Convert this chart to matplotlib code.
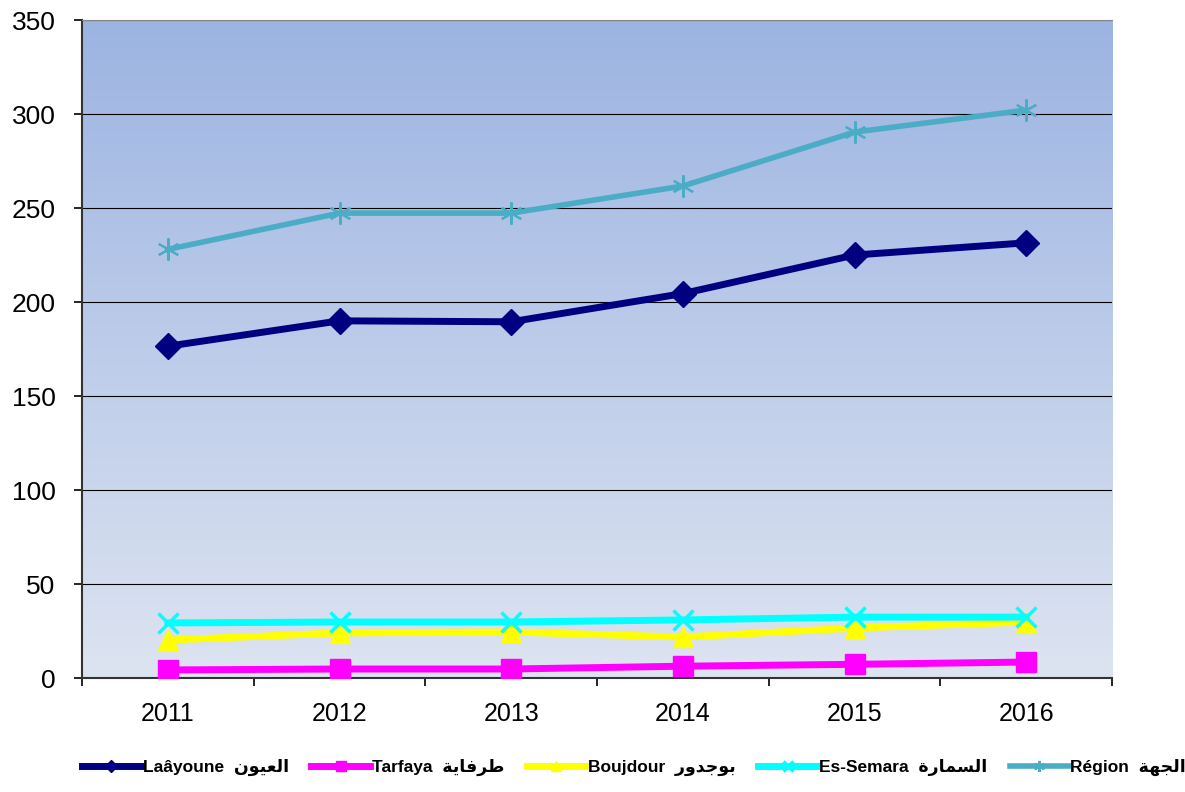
import numpy as np
import matplotlib.pyplot as plt
from matplotlib.colors import LinearSegmentedColormap

years = ["2011", "2012", "2013", "2014", "2015", "2016"]
laayoune = [176.5, 190, 189.5, 204.5, 225, 231.5]
tarfaya = [4.3, 4.8, 4.8, 6.3, 7.3, 8.5]
boujdour = [20.2, 24, 24.5, 21.8, 26.6, 29.8]
semara = [29.3, 29.8, 29.8, 30.9, 32.4, 32.4]
region = [228, 247.3, 247.3, 261.7, 290.4, 302.1]

# arabic names written in presentation forms, visual order (matplotlib has no shaping)
names = [
    "Laâyoune  \ufee5\ufeee\ufef4\ufecc\ufedf\ufe8d",
    "Tarfaya  \ufe94\ufef3\ufe8e\ufed3\ufeae\ufec3",
    "Boujdour  \ufead\ufeed\ufeaa\ufe9f\ufeee\ufe91",
    "Es-Semara  \ufe93\ufead\ufe8e\ufee4\ufeb4\ufedf\ufe8d",
    "Région  \ufe94\ufeec\ufea0\ufedf\ufe8d",
]

plt.rcParams['font.family'] = ['Liberation Sans', 'DejaVu Sans']

fig = plt.figure(figsize=(11.85, 7.92), dpi=100)
ax = fig.add_axes([0.0692, 0.1439, 0.8692, 0.8308])

x = np.arange(len(years))

# gradient background, darker blue on top
cmap = LinearSegmentedColormap.from_list("bg", ["#dde4f1", "#9cb4e2"])
grad = np.linspace(0, 1, 256).reshape(-1, 1)
ax.imshow(grad, cmap=cmap, aspect="auto", extent=[-0.5, 5.5, 0, 350],
          origin="lower", zorder=0)

for yv in range(50, 351, 50):
    ax.axhline(yv, color="black", lw=0.8, zorder=1)

ax.plot(x, tarfaya, color="#ff00ff", lw=5, marker="s", ms=15, label=names[1], zorder=3)
ax.plot(x, boujdour, color="#ffff00", lw=5, marker="^", ms=15, label=names[2], zorder=4)
ax.plot(x, semara, color="#00ffff", lw=5, marker="x", ms=14, mew=2.5, label=names[3], zorder=5)
ax.plot(x, laayoune, color="#000080", lw=5, marker="D", ms=13, label=names[0], zorder=6)
ax.plot(x, region, color="#4bacc6", lw=4, marker=(6, 2, 0), ms=16, mew=1.5, label=names[4], zorder=6)

ax.set_xlim(-0.5, 5.5)
ax.set_ylim(0, 350)
ax.set_yticks(range(0, 351, 50))
ax.set_xticks(x)
ax.set_xticklabels(years)
ax.set_xticks(np.arange(-0.5, 5.6, 1), minor=True)
ax.tick_params(axis="x", which="major", length=0, labelsize=18, pad=17)
ax.tick_params(axis="x", which="minor", length=6, width=1.2, direction="out")
ax.tick_params(axis="y", labelsize=19, length=6, width=1.2, direction="out", pad=13)

ax.spines["top"].set_color("#888888")
ax.spines["right"].set_visible(False)
ax.spines["left"].set_color("#333333")
ax.spines["left"].set_linewidth(1.5)
ax.spines["bottom"].set_color("#333333")
ax.spines["bottom"].set_linewidth(1.5)

h, l = ax.get_legend_handles_labels()
order = [3, 0, 1, 2, 4]
leg = fig.legend([h[i] for i in order], [l[i] for i in order], loc="lower center",
                 bbox_to_anchor=(0.535, 0.0), ncol=5, frameon=False, fontsize=12.5,
                 handlelength=3.4, columnspacing=1.3, handletextpad=0.1,
                 markerscale=0.5)
for t in leg.get_texts():
    t.set_fontweight("bold")

fig.savefig("out.png", dpi=100)
